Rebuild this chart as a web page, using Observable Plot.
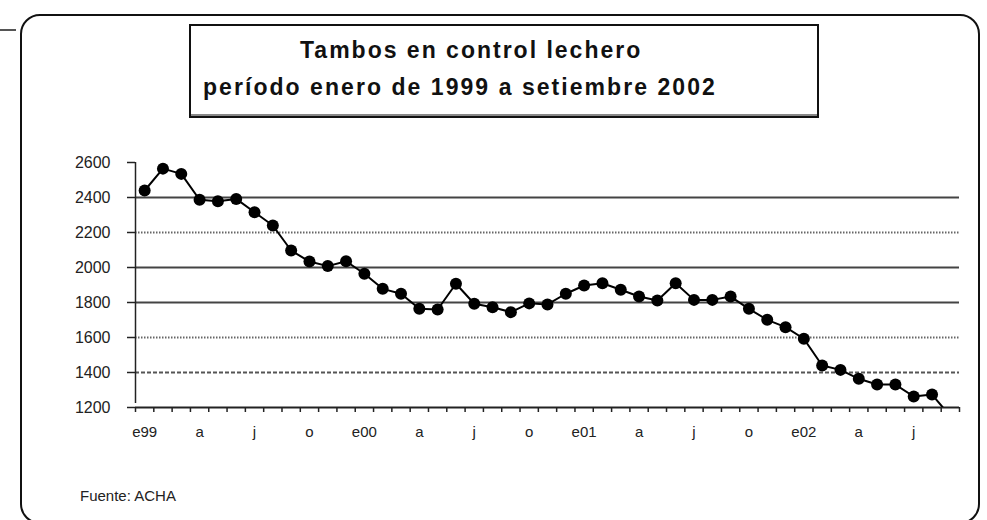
<!DOCTYPE html>
<html>
<head>
<meta charset="utf-8">
<script src="https://cdn.jsdelivr.net/npm/d3@7"></script>
<script src="https://cdn.jsdelivr.net/npm/@observablehq/plot@0.6"></script>
<style>
  html, body { margin: 0; padding: 0; background: #fff; }
  body { width: 987px; height: 520px; position: relative; overflow: hidden; font-family: "Liberation Sans", Arial, sans-serif; }
  #frame { position: absolute; left: 20px; top: 14px; width: 960px; height: 510px; border: 2px solid #111; border-radius: 20px; box-sizing: border-box; }
  #stub { position: absolute; left: 0; top: 29px; width: 16px; height: 2px; background: #555; }
  #titlebox { position: absolute; left: 189px; top: 24px; width: 630px; height: 94px; border: 2px solid #111; box-sizing: border-box; box-shadow: 0 -2px 0 #888 inset; }
  .tline { position: absolute; white-space: nowrap; font-weight: bold; font-size: 23px; color: #111; font-family: "Liberation Sans", Arial, sans-serif; letter-spacing: 2px; }
  #t1 { left: 300px; top: 37px; }
  #t2 { left: 203px; top: 74px; letter-spacing: 2.05px; }
  #chart { position: absolute; left: 0; top: 140px; }
  #source { position: absolute; left: 80px; top: 487px; font-size: 15px; color: #222; }
</style>
</head>
<body>
<div id="frame"></div>
<div id="stub"></div>
<div id="titlebox"></div>
<div class="tline" id="t1">Tambos en control lechero</div>
<div class="tline" id="t2">período enero de 1999 a setiembre 2002</div>
<div id="chart"></div>
<div id="source">Fuente: ACHA</div>
<script>
// Monthly values, January 1999 to September 2002
const values = [
  2440, 2565, 2535, 2387, 2379, 2392, 2316, 2240, 2097, 2034, 2008, 2036,
  1964, 1878, 1850, 1764, 1760, 1907, 1793, 1773, 1745, 1795, 1789, 1850,
  1897, 1910, 1873, 1834, 1811, 1910, 1815, 1815, 1834, 1764, 1701, 1659,
  1593, 1440, 1415, 1364, 1331, 1331, 1263, 1274, 1150
];
const monthLabels = ["e99","a","j","o","e00","a","j","o","e01","a","j","o","e02","a","j"];
const yTicks = [1200, 1400, 1600, 1800, 2000, 2200, 2400, 2600];
const gridSolid = [2400, 2000, 1800];
const gridDotted = [2200, 1600];
const gridDashed = [1400];

const data = values.map((v, i) => ({x: i + 0.5, v}));
const n = values.length;
const labelPos = monthLabels.map((_, k) => k * 3 + 0.5);

const chart = Plot.plot({
  width: 987,
  height: 320,
  marginLeft: 135,
  marginRight: 28,
  marginTop: 22,
  marginBottom: 53,
  style: {fontFamily: "'Liberation Sans', Arial, sans-serif", fontSize: "16px", color: "#222", background: "transparent"},
  x: {type: "linear", domain: [0, n], axis: null},
  y: {domain: [1200, 2600], axis: null},
  marks: [
    Plot.ruleY(gridSolid, {stroke: "#444", strokeWidth: 2}),
    Plot.ruleY(gridDotted, {stroke: "#666", strokeWidth: 2, strokeDasharray: "1.5,1.5"}),
    Plot.ruleY(gridDashed, {stroke: "#555", strokeWidth: 2, strokeDasharray: "4,2"}),
    Plot.axisY(yTicks, {label: null, tickSize: 8, tickPadding: 17, tickFormat: d3.format("d"), stroke: "#222", fill: "#222", fontSize: 16, strokeWidth: 1.5}),
    Plot.axisX(d3.range(0, n + 1), {label: null, tickSize: 5, tickFormat: () => "", stroke: "#222", strokeWidth: 1.5}),
    Plot.axisX(labelPos, {label: null, tickSize: 0, tickPadding: 19, tickFormat: (d, i) => monthLabels[i], fill: "#222", fontSize: 15}),
    Plot.ruleX([0], {y1: 1200, y2: 2600, stroke: "#222", strokeWidth: 1.5, insetTop: -4}),
    Plot.ruleY([1200], {stroke: "#222", strokeWidth: 2}),
    Plot.line(data, {x: "x", y: "v", stroke: "#000", strokeWidth: 2, clip: true}),
    Plot.dot(data, {x: "x", y: "v", r: 6, fill: "#000", stroke: "none", symbol: "circle", clip: true})
  ]
});
document.getElementById("chart").appendChild(chart);
</script>
</body>
</html>
